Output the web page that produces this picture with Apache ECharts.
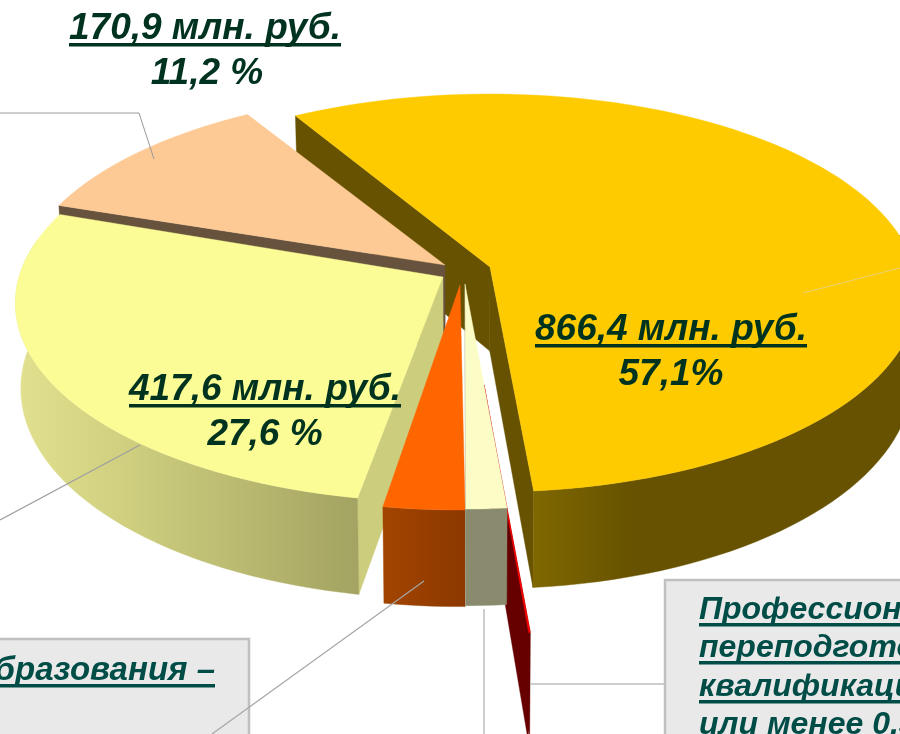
<!DOCTYPE html>
<html>
<head>
<meta charset="utf-8">
<style>html,body{margin:0;padding:0;background:#fff;overflow:hidden}#main{width:900px;height:734px}</style>
<script src="https://cdn.jsdelivr.net/npm/echarts@6/dist/echarts.min.js"></script>
</head>
<body>
<div id="main"></div>
<script>
// clockwise from the first cut of the gold slice
const sliceNames = ['gold', 'red', 'cream', 'orange', 'yellow', 'peach']
const shareValues = [57.1, 0.05, 1.35, 2.7, 27.6, 11.2]
const amountLabels = ['866,4 млн. руб.', '417,6 млн. руб.', '170,9 млн. руб.']
const shareLabels = ['57,1%', '27,6 %', '11,2 %']
const rightBoxLines = ['Профессиональная', 'переподготовка и', 'квалификации –', 'или менее 0,3 %']

// look of each slice, apex is where the exploded slice ended up
// cuts: which radial walls can be seen
const looks = {
    gold: { apex: [490, 267], scale: 1, turn: 0.5, top: '#FDCB00', cut: '#665200', order: 0, cuts: ['from', 'to'],
        wall: [[0, '#806800'], [0.28, '#665200'], [1, '#665200']], wallRange: [530, 900] },
    peach: { apex: [445, 265], scale: 1, turn: 0, top: '#FDC994', cut: '#66523D', order: 1, cuts: ['from'], wall: null },
    yellow: { apex: [443, 277], scale: 1, turn: 1, top: '#FCFC96', cut: '#CDCD7E', order: 2, cuts: ['from'],
        wall: [[0, '#E0E08E'], [0.3, '#D0D080'], [1, '#A3A362']], wallRange: [18, 360] },
    red: { apex: [484, 385], scale: 1.105, turn: 0.7, top: '#FF0000', cut: '#660000', order: 3, cuts: ['from', 'to'], wall: null },
    orange: { apex: [460, 285], scale: 1, turn: 0, top: '#FF6600', cut: '#993D00', order: 4, cuts: [],
        wall: [[0, '#A34500'], [1, '#8C3800']], wallRange: [380, 466] },
    cream: { apex: [465, 284], scale: 1, turn: 0.5, top: '#FCFCC6', cut: '#8A8A6E', order: 5, cuts: ['to'],
        wall: [[0, '#8A8A6E'], [1, '#8A8A6E']], wallRange: [467, 506] }
}

const START_DEG = -31.2
const A = 424, B = 195.6, P = 0.1307, H = 84

function project(look, deg) {
    const t = (deg + look.turn) * Math.PI / 180
    const w = 1 + P * Math.cos(t)
    return [
        look.apex[0] + look.scale * A * Math.sin(t) / w,
        look.apex[1] - look.scale * B * Math.cos(t) / w,
        look.scale * H / w
    ]
}
function drop(p, h) {
    return [p[0] + (470 - p[0]) * 0.012, p[1] + h]
}
function arcPoints(look, from, to) {
    const pts = []
    const n = Math.max(2, Math.ceil((to - from) / 2))
    for (let i = 0; i <= n; i++) pts.push(project(look, from + (to - from) * i / n))
    return pts
}

function renderSlice(params, api) {
    const name = sliceOrder[params.dataIndex].name
    const from = api.value(1), to = api.value(2)
    const look = looks[name]
    const apexBottom = drop(look.apex, look.scale * H)
    const children = []
    const poly = (points, fill) => children.push({
        type: 'polygon', shape: { points: points },
        style: { fill: fill, stroke: fill, lineWidth: 0.4 }
    })
    look.cuts.forEach(side => {
        const p = project(look, side === 'from' ? from : to)
        poly([look.apex, [p[0], p[1]], drop(p, p[2]), apexBottom], look.cut)
    })
    if (look.wall) {
        // only the part of the rim that faces the viewer
        const lo = Math.max(from, 80), hi = Math.min(to, 280)
        if (hi > lo) {
            const rim = arcPoints(look, lo, hi)
            const bottom = rim.map(p => drop(p, p[2])).reverse()
            poly(rim.map(p => [p[0], p[1]]).concat(bottom), new echarts.graphic.LinearGradient(
                look.wallRange[0], 0, look.wallRange[1], 0,
                look.wall.map(s => ({ offset: s[0], color: s[1] })), true))
        }
    }
    poly([look.apex].concat(arcPoints(look, from, to).map(p => [p[0], p[1]])), look.top)
    return { type: 'group', children: children }
}

// cumulative angles, then painted back to front
let running = START_DEG
const sliceOrder = sliceNames.map((name, i) => {
    const from = running
    running += shareValues[i] * 3.6
    return { name: name, share: shareValues[i], from: from, to: running }
}).sort((p, q) => looks[p.name].order - looks[q.name].order)

const FONT = 'Liberation Sans, Arial, sans-serif'
const measure = document.createElement('canvas').getContext('2d')

// y is the baseline of the text
function underlined(str, x, y, size, color, align, noLine) {
    const font = 'italic bold ' + size + 'px ' + FONT
    measure.font = font
    const width = measure.measureText(str).width
    const left = align === 'center' ? x - width / 2 : align === 'right' ? x - width : x
    const out = [{
        type: 'text', z: 60, x: left, y: y + size * 0.2,
        style: { text: str, font: font, fill: color, textAlign: 'left', textVerticalAlign: 'bottom' }
    }]
    if (!noLine) out.push({
        type: 'rect', z: 60, shape: { x: left, y: y + 3, width: width, height: 3.5 }, style: { fill: color }
    })
    return out
}
function leader(points, color, width) {
    return { type: 'polyline', z: 55, shape: { points: points }, style: { stroke: color, lineWidth: width, fill: null } }
}

const DARK = '#00331F', TEAL = '#004D47'
const graphics = [
    { type: 'rect', z: 50, shape: { x: -5, y: 639, width: 254, height: 120 }, style: { fill: '#E9E9E9', stroke: '#C0C0C0', lineWidth: 2.5 } },
    { type: 'rect', z: 50, shape: { x: 665, y: 580, width: 260, height: 180 }, style: { fill: '#E9E9E9', stroke: '#C0C0C0', lineWidth: 2.5 } },
    leader([[0, 113], [139, 113]], '#BDBDBD', 1.5),
    leader([[139, 113], [154, 159]], '#999999', 1),
    leader([[0, 520], [140, 445]], '#A0A0A0', 1.4),
    leader([[424, 581], [212, 734]], '#A6A6A6', 1.2),
    leader([[484, 609], [484, 734]], '#BDBDBD', 1.5),
    leader([[530, 684], [665, 684]], '#BDBDBD', 1.5),
    leader([[803, 293], [900, 268]], '#E8D27A', 1)
].concat(
    underlined(amountLabels[2], 205, 40, 37, DARK, 'center'),
    underlined(shareLabels[2], 207, 85, 37, DARK, 'center', true),
    underlined(amountLabels[0], 671, 341, 37, DARK, 'center'),
    underlined(shareLabels[0], 671, 386, 37, DARK, 'center', true),
    underlined(amountLabels[1], 265, 401, 37, DARK, 'center'),
    underlined(shareLabels[1], 265, 446, 37, DARK, 'center', true),
    underlined('образования –', 215, 681, 33, TEAL, 'right'),
    underlined(rightBoxLines[0], 699, 620, 32, TEAL, 'left'),
    underlined(rightBoxLines[1], 699, 658, 32, TEAL, 'left'),
    underlined(rightBoxLines[2], 699, 697, 32, TEAL, 'left'),
    underlined(rightBoxLines[3], 699, 735, 32, TEAL, 'left', true)
)

const myChart = echarts.init(document.getElementById('main'), null, { renderer: 'canvas' })
myChart.setOption({
    animation: false,
    backgroundColor: '#fff',
    graphic: graphics,
    series: [{
        type: 'custom',
        coordinateSystem: 'none',
        renderItem: renderSlice,
        silent: true,
        data: sliceOrder.map(s => [s.share, s.from, s.to])
    }]
})
</script>
</body>
</html>
